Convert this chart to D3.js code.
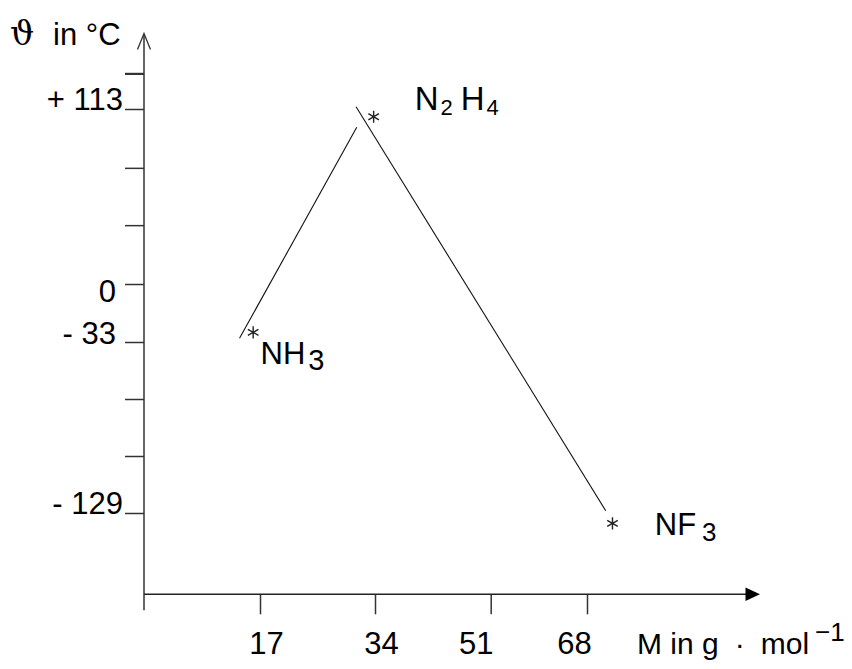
<!DOCTYPE html>
<html>
<head>
<meta charset="utf-8">
<script src="https://cdn.jsdelivr.net/npm/d3@7"></script>
<style>
  html, body { margin: 0; padding: 0; background: #fff; }
  svg { display: block; font-family: "Liberation Sans", Arial, sans-serif; }
</style>
</head>
<body>
<script>
const width = 852,
    height = 669;

// (schematic axes, so the scales are piecewise)
const compounds = ["NH3", "N2H4", "NF3"];
const massValues = [16.0, 33.8, 72.5];
const tempValues = [-27.5, 108, -134.8];

// the two drawn line segments (they do not pass exactly through the stars)
const segMass = [[14.0, 31.3], [31.2, 71.3]];
const segTemp = [[-30.9, 101.2], [114.5, -127.7]];

const xTickValues = [17, 34, 51, 68];
const xTickLabels = ["17", "34", "51", "68"];
const yTickValues = [-129, -97, -65, -33, 0, 38, 75, 113, 136];
const yTickLabels = ["- 129", "", "", "- 33", "0", "", "", "+ 113", ""];

const x = d3.scaleLinear()
    .domain([0, 17, 34, 51, 68])
    .range([144, 260, 375, 490.7, 587]);

const y = d3.scaleLinear()
    .domain([-129, -33, 0, 113])
    .range([513, 342, 284, 109]);

const axisY = 594.3;
const fs = 31;

const svg = d3.select("body").append("svg")
    .attr("width", width)
    .attr("height", height);

svg.append("rect").attr("width", width).attr("height", height).attr("fill", "#fff");

// y axis ticks + labels
const gy = svg.append("g")
    .attr("transform", `translate(${x(0)},0)`)
    .call(d3.axisLeft(y).tickValues(yTickValues).tickSize(19)
        .tickFormat((d, i) => yTickLabels[i]));
gy.select(".domain").remove();
gy.selectAll(".tick line")
    .attr("stroke", "#333")
    .attr("stroke-width", (d, i) => i === yTickValues.length - 1 ? 2.2 : 1.5);
const yShift = {"0": [-7, 17], "- 33": [-7, 1]};
gy.selectAll(".tick text")
    .attr("font-family", "Liberation Sans, Arial, sans-serif")
    .attr("font-size", fs)
    .attr("fill", "#000")
    .attr("dy", 0)
    .attr("x", function() { const s = yShift[this.textContent]; return -21 + (s ? s[0] : 0); })
    .attr("y", function() { const s = yShift[this.textContent]; return s ? s[1] : 0; });

// x axis ticks + labels
const gx = svg.append("g")
    .attr("transform", `translate(0,${axisY})`)
    .call(d3.axisBottom(x).tickValues(xTickValues).tickSize(20)
        .tickFormat((d, i) => xTickLabels[i]));
gx.select(".domain").remove();
gx.selectAll(".tick line").attr("stroke", "#333").attr("stroke-width", 1.5);
const xShift = [6, 6, -15, -13];
gx.selectAll(".tick text")
    .attr("font-family", "Liberation Sans, Arial, sans-serif")
    .attr("font-size", fs)
    .attr("fill", "#000")
    .attr("dy", 0)
    .attr("y", 60)
    .attr("x", (d, i) => xShift[i]);

// axis lines with arrows
const x0 = x(0);
svg.append("line")
    .attr("x1", x0).attr("y1", axisY + 16)
    .attr("x2", x0).attr("y2", 34)
    .attr("stroke", "#333").attr("stroke-width", 1.5);
svg.append("path")
    .attr("d", `M${x0 - 6.5},49.5 L${x0},33.5 L${x0 + 6.5},49.5`)
    .attr("fill", "none").attr("stroke", "#333").attr("stroke-width", 1.3);

svg.append("line")
    .attr("x1", x0).attr("y1", axisY)
    .attr("x2", 748).attr("y2", axisY)
    .attr("stroke", "#222").attr("stroke-width", 1.5);
svg.append("path")
    .attr("d", `M745.5,${axisY - 6.7} L760,${axisY} L745.5,${axisY + 6.7} Z`)
    .attr("fill", "#000");

// line segments
const line = d3.line().x(d => x(d[0])).y(d => y(d[1]));
svg.selectAll(".seg")
    .data(segMass.map((m, i) => m.map((v, j) => [v, segTemp[i][j]])))
    .join("path")
    .attr("class", "seg")
    .attr("d", line)
    .attr("fill", "none")
    .attr("stroke", "#111")
    .attr("stroke-width", 1.1);

// stars
const star = d3.symbol().type(d3.symbolAsterisk || d3.symbolCross).size(105);
svg.selectAll(".star")
    .data(compounds)
    .join("path")
    .attr("class", "star")
    .attr("transform", (d, i) => `translate(${x(massValues[i])},${y(tempValues[i])})`)
    .attr("d", star)
    .attr("fill", "none")
    .attr("stroke", "#222")
    .attr("stroke-width", 1.4);

// compound labels: [dx, dy, font size, sub size, sub drop, gap before sub, gap after sub]
const labelStyle = [
    [7.4, 32, 31, 29, 6, 3, 0],
    [41, -7, 33, 22, 5, 2, 8],
    [42.3, 11.7, 31, 26, 6, 6, 0]
];
compounds.forEach((name, i) => {
    const st = labelStyle[i];
    const t = svg.append("text")
        .attr("x", x(massValues[i]) + st[0])
        .attr("y", y(tempValues[i]) + st[1])
        .attr("font-size", st[2])
        .attr("fill", "#000");
    let prevSub = false;
    name.match(/[A-Z][a-z]?|\d+/g).forEach(part => {
        if (/\d/.test(part)) {
            t.append("tspan").attr("font-size", st[3]).attr("dx", st[5]).attr("dy", st[4]).text(part);
            prevSub = true;
        } else {
            t.append("tspan")
                .attr("dx", prevSub ? st[6] : 0)
                .attr("dy", prevSub ? -st[4] : 0)
                .text(part);
            prevSub = false;
        }
    });
});

// axis titles
const ty = svg.append("text").attr("x", 10).attr("y", 45).attr("font-size", fs).attr("fill", "#000");
ty.append("tspan").attr("font-family", "DejaVu Serif, serif").attr("font-size", 34).text("ϑ");
ty.append("tspan").attr("x", 53).text("in °C");

const tx = svg.append("text").attr("x", 637).attr("y", 654).attr("font-size", 30).attr("fill", "#000");
tx.append("tspan").text("M in g");
tx.append("tspan").attr("dx", 16).text("\u00b7");
tx.append("tspan").attr("dx", 16).text("mol");
tx.append("tspan").attr("dx", 6).attr("dy", -13).attr("font-size", 26).text("\u22121");
</script>
</body>
</html>
